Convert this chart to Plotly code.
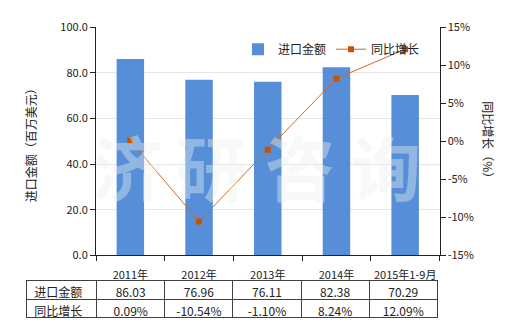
import plotly.graph_objects as go

categories = ["2011年", "2012年", "2013年", "2014年", "2015年1-9月"]
import_values = [86.03, 76.96, 76.11, 82.38, 70.29]
growth_values = [0.09, -10.54, -1.10, 8.24, 12.09]
import_labels = ["86.03", "76.96", "76.11", "82.38", "70.29"]
growth_labels = ["0.09%", "-10.54%", "-1.10%", "8.24%", "12.09%"]
series_names = ["进口金额", "同比增长"]
left_ticks = [0, 20, 40, 60, 80, 100]
right_ticks = [-15, -10, -5, 0, 5, 10, 15]
watermark_chars = ["济", "研", "咨", "询"]

W, H = 520, 330
FONT = "Noto Sans CJK SC, Noto Sans, sans-serif"
BAR_COLOR = "#568fd8"
LINE_COLOR = "#d2691e"
MARKER_COLOR = "#c85200"

x0, x1 = 96 / W, 439.5 / W
y0, y1 = 1 - 259 / H, 1 - 19 / H

fig = go.Figure()
fig.add_trace(go.Bar(
    x=categories, y=import_values, name=series_names[0],
    marker=dict(color=BAR_COLOR, line=dict(width=0)), width=0.4,
    xaxis="x", yaxis="y",
))
fig.add_trace(go.Scatter(
    x=categories, y=growth_values, name=series_names[1], mode="lines+markers",
    line=dict(color=LINE_COLOR, width=1),
    marker=dict(symbol="square", size=6, color=MARKER_COLOR),
    xaxis="x", yaxis="y2",
))
fig.add_trace(go.Table(
    domain=dict(x=[26.3 / W, 438 / W], y=[0, 1 - 285 / H]),
    columnwidth=[70.5] + [68.3] * 5,
    header=dict(
        values=[series_names[0]] + import_labels,
        align=["left"] + ["center"] * 5,
        line=dict(color="#404040", width=1),
        fill=dict(color="white"),
        font=dict(family=FONT, size=12, color="#222"),
        height=19,
    ),
    cells=dict(
        values=[[series_names[1]]] + [[g] for g in growth_labels],
        align=["left"] + ["center"] * 5,
        line=dict(color="#404040", width=1),
        fill=dict(color="white"),
        font=dict(family=FONT, size=12, color="#222"),
        height=18,
    ),
))

annotations = []
wm_x = [128, 211, 300, 386]
for ch, xx in zip(watermark_chars, wm_x):
    annotations.append(dict(
        text=f"<b>{ch}</b>", x=xx / W, y=1 - 164 / H, xref="paper", yref="paper",
        showarrow=False, xanchor="center", yanchor="middle",
        font=dict(family=FONT, size=70, color="rgba(236,240,240,0.4)"),
    ))
annotations.append(dict(
    text="进口金额（百万美元）", x=30 / W, y=1 - 140 / H, xref="paper", yref="paper",
    showarrow=False, textangle=-90, xanchor="center", yanchor="middle",
    font=dict(family=FONT, size=12, color="#222"),
))
annotations.append(dict(
    text="同比增长（%）", x=489 / W, y=1 - 140 / H, xref="paper", yref="paper",
    showarrow=False, textangle=90, xanchor="center", yanchor="middle",
    font=dict(family=FONT, size=12, color="#222"),
))

fig.update_layout(
    width=W, height=H,
    margin=dict(l=0, r=0, t=0, b=0),
    paper_bgcolor="white", plot_bgcolor="white",
    font=dict(family=FONT, size=11, color="#222"),
    showlegend=True,
    legend=dict(orientation="h", x=238 / W, y=1 - 27 / H, xanchor="left", yanchor="top",
                bgcolor="rgba(0,0,0,0)", font=dict(family=FONT, size=12, color="#222"),
                itemwidth=30, tracegroupgap=0),
    bargap=0.6,
    xaxis=dict(domain=[x0, x1], type="category", showline=True, linecolor="#222", linewidth=1,
               ticks="outside", ticklen=5, tickcolor="#222", tickson="boundaries",
               tickangle=0, ticklabelstandoff=9, showgrid=False, tickfont=dict(size=11),
               anchor="y"),
    yaxis=dict(domain=[y0, y1], range=[0, 100], tickvals=left_ticks,
               ticktext=[f"{v:.1f}" for v in left_ticks],
               showline=True, linecolor="#222", linewidth=1, ticks="outside", ticklen=5,
               tickcolor="#222", showgrid=True, gridcolor="#e6e6e6", gridwidth=1,
               zeroline=False, tickfont=dict(size=11), anchor="x"),
    yaxis2=dict(range=[-15, 15], tickvals=right_ticks, ticktext=[f"{v}%" for v in right_ticks],
                overlaying="y", side="right", anchor="x", showline=True, linecolor="#222",
                linewidth=1, ticks="outside", ticklen=5, tickcolor="#222", showgrid=False,
                zeroline=False, tickfont=dict(size=11)),
    annotations=annotations,
)

fig.write_html("out.html")
